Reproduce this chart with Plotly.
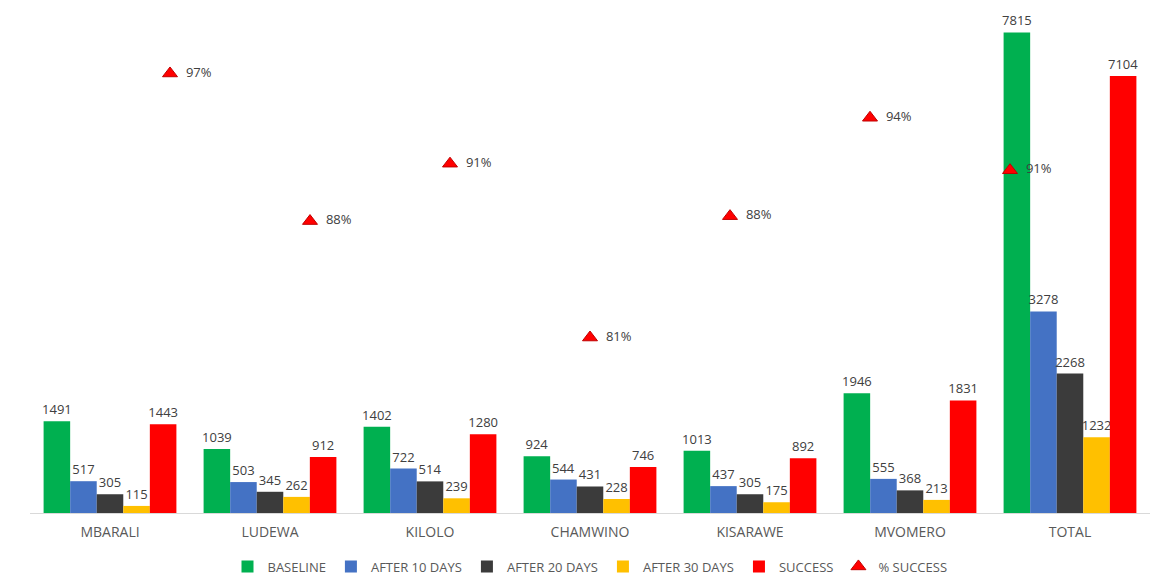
import plotly.graph_objects as go

districts = ["MBARALI", "LUDEWA", "KILOLO", "CHAMWINO", "KISARAWE", "MVOMERO", "TOTAL"]
baseline = [1491, 1039, 1402, 924, 1013, 1946, 7815]
after_10 = [517, 503, 722, 544, 437, 555, 3278]
after_20 = [305, 345, 514, 431, 305, 368, 2268]
after_30 = [115, 262, 239, 228, 175, 213, 1232]
success = [1443, 912, 1280, 746, 892, 1831, 7104]
pct_success = [0.968, 0.878, 0.913, 0.807, 0.881, 0.941, 0.909]

series = [
    ("BASELINE", baseline, "#00B050"),
    ("AFTER 10 DAYS", after_10, "#4472C4"),
    ("AFTER 20 DAYS", after_20, "#3B3B3B"),
    ("AFTER 30 DAYS", after_30, "#FFC000"),
    ("SUCCESS", success, "#FF0000"),
]

label_font = dict(family="Open Sans, Arial, sans-serif", size=13, color="#404040")

fig = go.Figure()
for name, vals, color in series:
    fig.add_trace(go.Bar(
        name=name, x=districts, y=vals,
        marker=dict(color=color, line=dict(width=0)),
        text=[str(v) for v in vals], textposition="outside",
        textfont=label_font, constraintext="none", cliponaxis=False,
    ))

fig.add_trace(go.Scatter(
    name="% SUCCESS", x=districts, y=pct_success,
    xaxis="x2", yaxis="y2", mode="markers+text",
    marker=dict(symbol="triangle-up", size=13, color="#FF0000",
                line=dict(color="#C00000", width=1)),
    text=[f"{p:.0%}" for p in pct_success], texttemplate="  %{text}",
    textposition="middle right", textfont=label_font, cliponaxis=False,
))

fig.update_layout(
    width=1165, height=584,
    margin=dict(l=30, r=15, t=21, b=71, autoexpand=False),
    paper_bgcolor="white", plot_bgcolor="white",
    barmode="group", bargap=0.17, bargroupgap=0,
    font=dict(family="Open Sans, Arial, sans-serif", color="#595959"),
    xaxis=dict(type="category", showgrid=False, showline=True,
               linecolor="#D9D9D9", linewidth=1, ticks="outside",
               ticklen=6, tickcolor="rgba(0,0,0,0)",
               tickfont=dict(size=14, color="#595959")),
    xaxis2=dict(type="category", overlaying="x", range=[-1, 7],
                visible=False),
    yaxis=dict(range=[0, 8000], visible=False, showgrid=False),
    yaxis2=dict(range=[0.7, 1.0], overlaying="y", visible=False,
                showgrid=False),
    legend=dict(orientation="h", x=0.5, xanchor="center",
                yref="container", y=0.03, yanchor="middle",
                font=dict(size=13, color="#595959"),
                itemwidth=30, tracegroupgap=0),
    showlegend=True,
)

fig.write_html("out.html")
